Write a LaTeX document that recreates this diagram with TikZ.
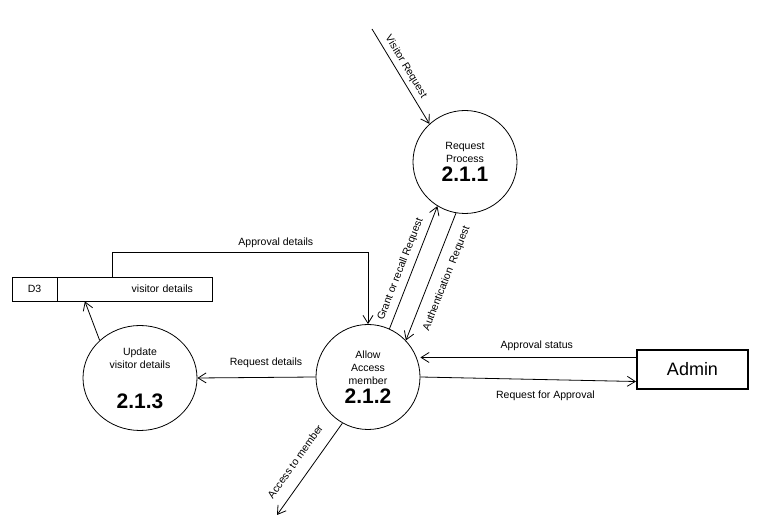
\documentclass[tikz,border=0pt]{standalone}
\usepackage{fontspec}
\setmainfont{Liberation Sans}
\usetikzlibrary{arrows.meta,shapes.geometric,calc}

\begin{document}
\begin{tikzpicture}[x=1pt,y=1pt,line width=0.8pt,
  proc/.style={draw,ellipse,inner sep=0pt,align=center,font=\fontsize{10.5}{13}\selectfont},
  num/.style={font=\fontsize{21}{24}\selectfont\bfseries},
  flow/.style={-{Straight Barb[length=8pt,width=10pt]}},
  backflow/.style={{Straight Barb[length=8pt,width=10pt]}-},
  lbl/.style={font=\fontsize{10.5}{12}\selectfont,inner sep=2pt}]
\useasboundingbox (0,0) rectangle (772,530);
% processes
\node [proc,minimum width=104pt,minimum height=103pt] (p211) at (465,368) {Request\\Process\\[4pt]{\fontsize{21}{24}\selectfont\bfseries 2.1.1}};
\node [proc,minimum width=104pt,minimum height=105pt] (p212) at (368,153) {Allow\\Access\\member\\[3pt]{\fontsize{21}{24}\selectfont\bfseries 2.1.2}};
\node [proc,minimum width=114pt,minimum height=105pt] (p213) at (140,152) {Update\\visitor details\\[24pt]{\fontsize{21}{24}\selectfont\bfseries 2.1.3}};
% data store
\node [draw,lbl,minimum width=200pt,minimum height=24pt,text width=162pt,inner xsep=19pt,align=right] (store) at (112,241) {visitor details};
\node [draw,lbl,minimum width=45pt,minimum height=24pt,anchor=north west] (d3) at (store.north west) {D3};
% entity
\node [draw,line width=2pt,minimum width=111pt,minimum height=39pt,font=\fontsize{18}{20}\selectfont] (admin) at (692.5,160.5) {Admin};
\coordinate (vr) at (372,501);
\coordinate (am) at (277,15);
% flows
\draw [flow] (vr) -- node [lbl,sloped,above=2pt,pos=0.45] {Visitor Request} (p211.133);
\draw [flow] (p212.66) -- node [lbl,sloped,above=4pt,pos=0.45] {Grant or recall Request} (p211.238);
\draw [backflow] (p212.44) -- node [lbl,sloped,below=8pt,pos=0.53] {Authentication\ \ Request} (p211.260);
\draw [flow] (store.north) -- ++(0,24) -| node [lbl,above=3pt,pos=0.32] {Approval details} (p212.north);
\draw [flow] (p212.west) -- node [lbl,above=7pt,pos=0.42] {Request details} (p213.east);
\draw [flow] (p213.137) -- ($(store.south west)!0.365!(store.south east)$);
\draw [flow] (admin.168) -- node [lbl,above=4pt,pos=0.46] {Approval status} (admin.168 -| p212.east);
\draw [flow] (p212.east) -- node [lbl,below=9pt,pos=0.58] {Request for Approval} (admin.192);
\draw [backflow] (am) -- node [lbl,sloped,above=10pt,pos=0.48] {Access to member} (p212.241);
\end{tikzpicture}
\end{document}
